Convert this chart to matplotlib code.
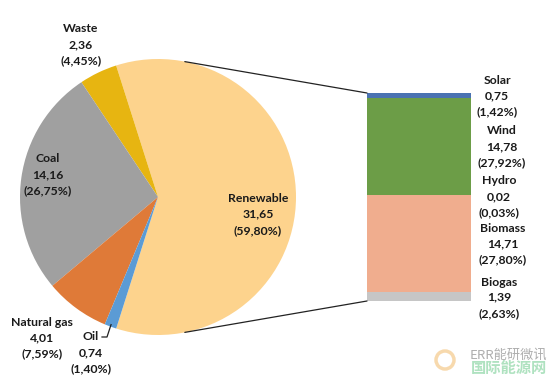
import numpy as np
import matplotlib
matplotlib.use('Agg')
import matplotlib.pyplot as plt
from matplotlib.patches import ConnectionPatch, Circle

plt.rcParams['font.family'] = ['Lato', 'DejaVu Sans']

# pie data (main sources)
pie_labels = ['Renewable', 'Waste', 'Coal', 'Natural gas', 'Oil']
pie_values = [31.65, 2.36, 14.16, 4.01, 0.74]
pie_pct = [59.80, 4.45, 26.75, 7.59, 1.40]
pie_colors = ['#FDD38D', '#E7B511', '#A0A0A0', '#DF7A38', '#5B9BD5']

# bar data (renewable breakdown), top to bottom
bar_labels = ['Solar', 'Wind', 'Hydro', 'Biomass', 'Biogas']
bar_values = [0.75, 14.78, 0.02, 14.71, 1.39]
bar_pct = [1.42, 27.92, 0.03, 27.80, 2.63]
bar_colors = ['#4A72B2', '#6C9D47', '#FFC000', '#F0AD8E', '#C6C6C6']

W, H = 547, 382
fig = plt.figure(figsize=(W / 100, H / 100), dpi=100)
ax = fig.add_axes([0, 0, 1, 1])


def py(y):
    # pixel row (from top) -> data y
    return H - y


cx, cy, r = 158, py(197), 138
start = -pie_pct[0] * 3.6 / 2
ax.pie(pie_values, colors=pie_colors, startangle=start, counterclock=True,
       center=(cx, cy), radius=r, frame=True,
       wedgeprops=dict(linewidth=0))
ax.set_xlim(0, W)
ax.set_ylim(0, H)
ax.set_aspect('equal')
ax.axis('off')

# stacked bar for the renewable split
bax = fig.add_axes([367 / W, (H - 301) / H, 104 / W, 208 / H])
total = sum(bar_values)
bottom = total
for v, c in zip(bar_values, bar_colors):
    bottom -= v
    bax.bar(0, v, bottom=bottom, width=1, color=c, linewidth=0)
bax.set_xlim(-0.5, 0.5)
bax.set_ylim(0, total)
bax.axis('off')

# connector lines from pie to bar
for ang, yb in [(78.8, 1), (-78.8, 0)]:
    a = np.deg2rad(ang)
    p = (cx + r * np.cos(a), cy + r * np.sin(a))
    con = ConnectionPatch(xyA=p, coordsA=ax.transData, xyB=(0, yb),
                          coordsB=bax.transAxes, color='#222222', lw=0.9)
    fig.add_artist(con)


def fmt(v):
    return f"{v:.2f}".replace('.', ',')


def label(x, ys, name, val, pct):
    lines = [name, fmt(val), '(' + fmt(pct) + '%)']
    for y, t in zip(ys, lines):
        ax.text(x, py(y), t, ha='center', va='center', fontsize=8.8,
                fontweight='bold', color='#1a1a1a')


pie_pos = [(258, (198, 214, 231)), (81, (29, 45, 61)), (48, (159, 175, 191)),
           (42, (322, 338, 354)), (91, (337, 353, 369))]
for (x, ys), n, v, p in zip(pie_pos, pie_labels, pie_values, pie_pct):
    label(x, ys, n, v, p)

bar_pos = [(497, (80, 96, 112)), (502, (131, 147, 163)), (499, (180, 197, 213)),
           (503, (228, 244, 260)), (499, (282, 297, 314))]
for (x, ys), n, v, p in zip(bar_pos, bar_labels, bar_values, bar_pct):
    label(x, ys, n, v, p)

# leader line for Oil
oil_mid = np.deg2rad(start + sum(pie_pct[:4]) * 3.6 + pie_pct[4] * 1.8)
ex, ey = cx + (r - 2) * np.cos(oil_mid), cy + (r - 2) * np.sin(oil_mid)
ax.plot([102, 107, ex], [py(337), py(337), ey], color='#222222', lw=0.9)

# watermark
ax.add_patch(Circle((445, py(360)), 9, fill=False, ec='#f5c98a', lw=2.5, alpha=0.7))
ax.text(547, py(355), 'ERR能研微讯', ha='right', va='center', fontsize=9.5,
        color='#9a9a9a', alpha=0.8,
        family=['Noto Sans CJK SC', 'DejaVu Sans'])
ax.text(547, py(368), '国际能源网', ha='right', va='center', fontsize=11,
        color='#8ed6a6', alpha=0.7, fontweight='bold',
        family=['Noto Sans CJK SC', 'DejaVu Sans'])

fig.savefig('out.png', dpi=100)
